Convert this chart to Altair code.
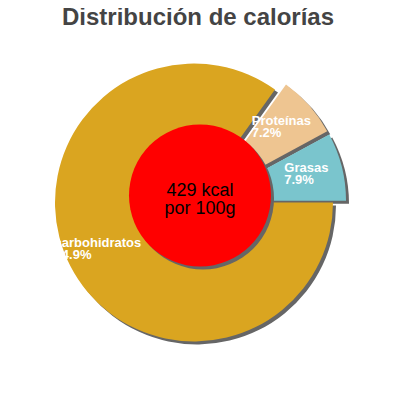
import math
import itertools
import altair as alt
import pandas as pd

# ---- data ----
categories = ["Proteínas", "Grasas", "carbohidratos"]
percents = [7.2, 7.9, 84.9]
energy_kcal = [429]
title_text = ["Distribución de calorías"]

# ---- styles ----
FONT = "Liberation Sans"
colors = {"Proteínas": "#EEC591", "Grasas": "#7AC5CD", "carbohidratos": "#DAA520"}
explode = {"Proteínas": (11, -5), "Grasas": (13, -1.8), "carbohidratos": (0, 0)}
label_dx = {"Proteínas": -32, "Grasas": -24.5, "carbohidratos": -46}
SHADOW = "#666666"
W = H = 384
CX, CY, R = 186, 194.5, 139
RED_X, RED_Y, RED_R = 192, 187.5, 71
SH = 3

ends = list(itertools.accumulate(percents))
starts = [e - p for e, p in zip(ends, percents)]
df = pd.DataFrame({"name": categories, "pct": percents, "start": starts, "end": ends})
df["mid"] = (df["start"] + df["end"]) / 2
df["label"] = df["name"] + "\n" + df["pct"].map(lambda v: f"{v:.1f}%")

total = sum(percents)
a0 = math.pi / 2 - 2 * math.pi * (percents[0] + percents[1]) / total
theta_scale = alt.Scale(domain=[0, total], range=[a0, a0 + 2 * math.pi])

shadows, slices, labels = [], [], []
for cat in categories:
    ox, oy = explode[cat]
    base = alt.Chart(df).transform_filter(alt.datum.name == cat)
    enc = dict(theta=alt.Theta("start:Q", scale=theta_scale, stack=None),
               theta2=alt.Theta2("end:Q"))
    shadows.append(base.mark_arc(radius=R, x=CX + ox + SH, y=CY + oy + SH,
                                 color=SHADOW, opacity=1).encode(**enc))
    slices.append(base.mark_arc(radius=R, x=CX + ox, y=CY + oy,
                                color=colors[cat], opacity=1).encode(**enc))
    labels.append(
        base.mark_text(radius=105, x=CX + ox, y=CY + oy, dx=label_dx[cat], dy=-3,
                       align="left", baseline="alphabetic", lineBreak="\n",
                       lineHeight=11.7, font=FONT, fontSize=13, fontWeight="bold",
                       color="white").encode(
            theta=alt.Theta("mid:Q", scale=theta_scale, stack=None),
            text=alt.Text("label:N"))
    )

kdf = pd.DataFrame({"kcal": energy_kcal})
circ_size = (2 * RED_R) ** 2  # Vega circle symbol: size = diameter^2
red_shadow = alt.Chart(kdf).mark_circle(size=circ_size, color=SHADOW, opacity=1).encode(
    x=alt.value(RED_X + SH), y=alt.value(RED_Y + SH))
red = alt.Chart(kdf).mark_circle(size=circ_size, color="#FF0000", opacity=1).encode(
    x=alt.value(RED_X), y=alt.value(RED_Y))
center_text = alt.Chart(kdf).transform_calculate(
    t="datum.kcal + ' kcal\\npor 100g'"
).mark_text(align="center", baseline="alphabetic", lineBreak="\n", lineHeight=18.3,
            font=FONT, fontSize=18, color="#000000").encode(
    x=alt.value(RED_X), y=alt.value(188), text=alt.Text("t:N"))

title = alt.Chart(pd.DataFrame({"t": title_text})).mark_text(
    align="center", baseline="alphabetic", font=FONT, fontSize=24,
    fontWeight="bold", color="#444444").encode(
    x=alt.value(190), y=alt.value(17), text=alt.Text("t:N"))

chart = alt.layer(*shadows, *slices, red_shadow, red, center_text, *labels, title).properties(
    width=W, height=H, autosize=alt.AutoSizeParams(type="none"), padding=0
).configure_view(stroke=None)

chart.save("out.html", embed_options={"renderer": "svg", "actions": False})
